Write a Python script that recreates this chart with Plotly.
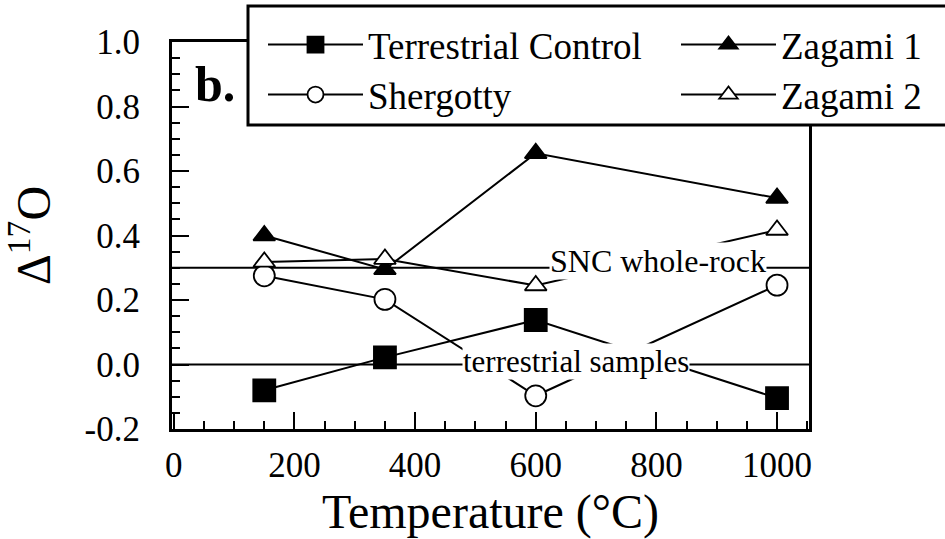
import plotly.graph_objects as go

# Heating-step temperatures (°C) and Δ17O values for each sample
temperature = [150, 350, 600, 1000]
terrestrial_control = [-0.08, 0.022, 0.138, -0.104]
shergotty = [0.275, 0.202, -0.097, 0.246]
zagami_1 = [0.40, 0.295, 0.655, 0.516]
zagami_2 = [0.318, 0.327, 0.245, 0.417]

# Reference levels
snc_whole_rock = 0.30
terrestrial_level = 0.0

y_tickvals = [-0.2, 0.0, 0.2, 0.4, 0.6, 0.8, 1.0]
y_ticktext = ["-0.2", "0.0", "0.2", "0.4", "0.6", "0.8", "1.0"]
x_tickvals = [0, 200, 400, 600, 800, 1000]
x_ticktext = ["0", "200", "400", "600", "800", "1000"]

X_RANGE = [-3, 1053]
Y_RANGE = [-0.2, 1.0]

SERIF = "Liberation Serif"

series = [
    ("Terrestrial Control", terrestrial_control, "square", "black", 22, "legend"),
    ("Shergotty", shergotty, "circle", "white", 21, "legend2"),
    ("Zagami 1", zagami_1, "triangle-up", "black", 19, "legend3"),
    ("Zagami 2", zagami_2, "triangle-up", "white", 19, "legend4"),
]

fig = go.Figure()
for name, vals, sym, fill, size, leg in series:
    fig.add_trace(go.Scatter(
        x=temperature, y=vals, name=name, mode="lines+markers",
        line=dict(color="black", width=2),
        marker=dict(symbol=sym, size=size, color=fill,
                    line=dict(color="black", width=1.8)),
        legend=leg,
    ))

# Horizontal reference lines
for level in (snc_whole_rock, terrestrial_level):
    fig.add_shape(type="line", xref="paper", x0=0, x1=1, yref="y",
                  y0=level, y1=level, line=dict(color="black", width=2),
                  layer="below")

# Labels on the reference lines
fig.add_annotation(x=802, y=snc_whole_rock, text="SNC whole-rock",
                   showarrow=False, bgcolor="white", borderpad=0, yshift=7,
                   font=dict(family=SERIF, size=32, color="black"))
fig.add_annotation(x=666, y=terrestrial_level, text="terrestrial samples",
                   showarrow=False, bgcolor="white", borderpad=0, yshift=3,
                   font=dict(family=SERIF, size=31, color="black"))

# Pixel helpers for the plot frame
L, T, W, H = 172, 42, 637, 387
def px_x(p):
    return (p - L) / W
def px_y(p):
    return (T + H - p) / H

# Panel letter
fig.add_annotation(xref="paper", yref="paper", x=px_x(215), y=px_y(84),
                   xanchor="center", yanchor="middle",
                   text="<b>b.</b>", showarrow=False,
                   font=dict(family=SERIF, size=50, color="black"))

# Legend frame
fig.add_shape(type="rect", xref="paper", yref="paper",
              x0=px_x(248), x1=px_x(948), y0=px_y(125), y1=px_y(6),
              line=dict(color="black", width=3), fillcolor="white",
              layer="above")

leg_common = dict(font=dict(family=SERIF, size=37, color="black"),
                  bgcolor="rgba(0,0,0,0)", borderwidth=0,
                  xanchor="left", yanchor="middle", itemwidth=95)
fig.update_layout(
    legend=dict(x=px_x(263), y=px_y(45), **leg_common),
    legend2=dict(x=px_x(263), y=px_y(95), **leg_common),
    legend3=dict(x=px_x(676), y=px_y(45), **leg_common),
    legend4=dict(x=px_x(676), y=px_y(95), **leg_common),
)

axis_common = dict(
    showline=True, linecolor="black", linewidth=3, mirror=True,
    ticks="inside", ticklen=17, tickwidth=2, tickcolor="black",
    showgrid=False, zeroline=False, automargin=False,
    tickfont=dict(family=SERIF, size=35, color="black"),
)

fig.update_xaxes(
    range=X_RANGE, tickmode="array", tickvals=x_tickvals, ticktext=x_ticktext,
    minor=dict(ticks="inside", ticklen=8, tickwidth=1.5, dtick=50, tick0=0,
               tickcolor="black", showgrid=False),
    title=dict(text="Temperature (°C)", font=dict(family=SERIF, size=48, color="black"),
               standoff=6),
    ticklabelstandoff=3,
    **axis_common,
)
fig.update_yaxes(
    range=Y_RANGE, tickmode="array", tickvals=y_tickvals, ticktext=y_ticktext,
    minor=dict(ticks="inside", ticklen=8, tickwidth=1.5, dtick=0.05, tick0=0,
               tickcolor="black", showgrid=False),
    title=dict(text="Δ<sup>17</sup>O", font=dict(family=SERIF, size=48, color="black"),
               standoff=48),
    ticklabelstandoff=22,
    **axis_common,
)

# Short ticks only along the top and right edges
fig.update_layout(
    xaxis2=dict(overlaying="x", side="top", anchor="y", range=X_RANGE,
                ticks="inside", ticklen=8, tickwidth=1.5, tickcolor="black",
                dtick=50, tick0=0, showticklabels=False, showline=False,
                showgrid=False, zeroline=False, automargin=False),
    yaxis2=dict(overlaying="y", side="right", anchor="x", range=Y_RANGE,
                ticks="inside", ticklen=8, tickwidth=1.5, tickcolor="black",
                dtick=0.05, tick0=0, showticklabels=False, showline=False,
                showgrid=False, zeroline=False, automargin=False),
)

fig.update_layout(
    width=945, height=539,
    margin=dict(l=L, r=945 - L - W, t=T, b=539 - T - H, autoexpand=False),
    font=dict(family=SERIF, color="black"),
    paper_bgcolor="white", plot_bgcolor="white",
    showlegend=True,
)

fig.write_html("out.html")
